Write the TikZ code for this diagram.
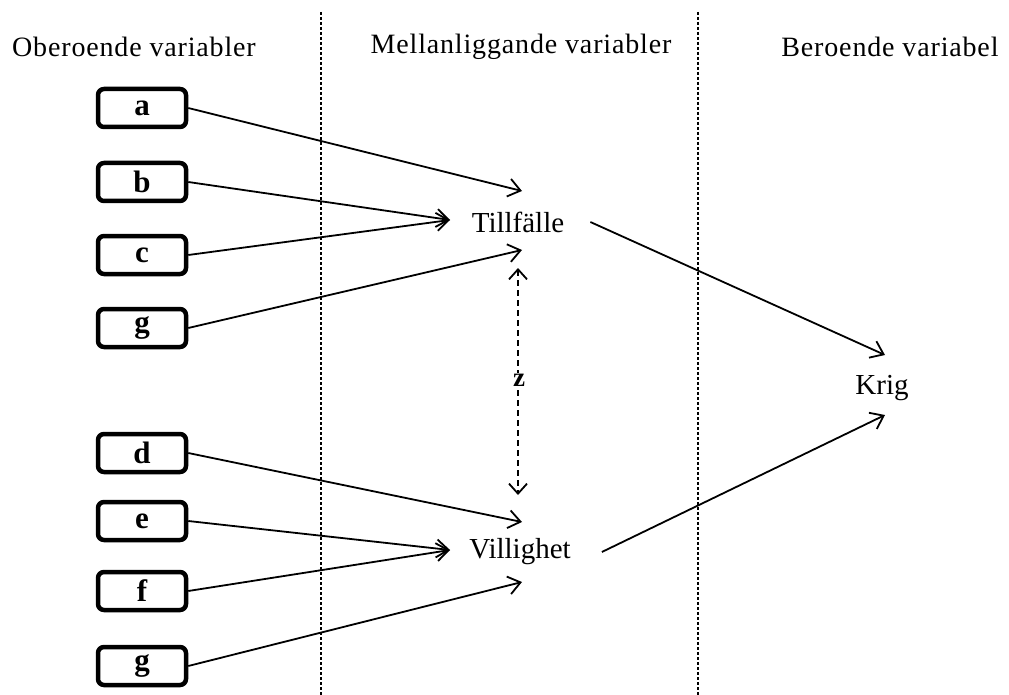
\documentclass[tikz,border=0pt]{standalone}
\usepackage{fontspec}
\setmainfont{Liberation Serif}
\usetikzlibrary{arrows.meta}
\begin{document}
\begin{tikzpicture}[x=1pt,y=-1pt,
  box/.style={draw, line width=4.5pt, rounded corners=6pt, minimum width=88pt, minimum height=38pt, inner sep=0pt, font=\fontsize{31}{32}\selectfont\bfseries},
  lbl/.style={font=\fontsize{29}{32}\selectfont, inner sep=0pt},
  head/.style={font=\fontsize{28}{32}\selectfont\addfontfeatures{LetterSpace=3}, inner sep=0pt},
  conn/.style={line width=1.8pt, -{Straight Barb[length=12pt,width=18pt,line width=1.8pt]}},
  sep/.style={line width=1.4pt, dash pattern=on 3pt off 2pt}]
\useasboundingbox (0,0) rectangle (1009,695);
% column headers
\node[head] (h1) at (134,47) {Oberoende variabler};
\node[head] (h2) at (521,47) {Mellanliggande variabler};
\node[head] (h3) at (890,47) {Beroende variabel};
% separators
\coordinate (s1t) at (321,12); \coordinate (s1b) at (321,695);
\coordinate (s2t) at (698,12); \coordinate (s2b) at (698,695);
\draw[sep] (s1t) -- (s1b);
\draw[sep] (s2t) -- (s2b);
% boxes
\node[box] (a) at (142,108) {a};
\node[box] (b) at (142,182) {b};
\node[box] (c) at (142,255) {c};
\node[box] (g1) at (142,328) {g};
\node[box] (d) at (142,453) {d};
\node[box] (e) at (142,521) {e};
\node[box] (f) at (142,591) {f};
\node[box] (g2) at (142,666) {g};
% middle and right labels
\node[lbl] (till) at (518,222) {Tillfälle};
\node[lbl] (vill) at (520,552) {Villighet};
\node[lbl] (krig) at (882,388) {Krig};
% arrow end points
\coordinate (T1) at (522,191);
\coordinate (T2) at (450,220);
\coordinate (T3) at (522,250);
\coordinate (V1) at (522,522);
\coordinate (V2) at (450,550);
\coordinate (V3) at (522,582);
\coordinate (K1) at (885,355);
\coordinate (K2) at (885,415);
\coordinate (Z1) at (518,268);
\coordinate (Z2) at (518,495);
% connectors
\draw[conn] (a.east) -- (T1);
\draw[conn] (b.east) -- (T2);
\draw[conn] (c.east) -- (T2);
\draw[conn] (g1.east) -- (T3);
\draw[conn] (d.east) -- (V1);
\draw[conn] (e.east) -- (V2);
\draw[conn] (f.east) -- (V2);
\draw[conn] (g2.east) -- (V3);
\draw[conn] ([xshift=26pt]till.east) -- (K1);
\draw[conn] ([xshift=31pt]vill.east) -- (K2);
\draw[line width=1.8pt, dash pattern=on 6pt off 4pt, {Straight Barb[length=10pt,width=18pt,line width=1.8pt]}-{Straight Barb[length=10pt,width=18pt,line width=1.8pt]}] (Z1) -- (Z2);
\node[fill=white, inner sep=1pt, font=\fontsize{27}{28}\selectfont\bfseries] (z) at (519,380) {z};
\end{tikzpicture}
\end{document}
